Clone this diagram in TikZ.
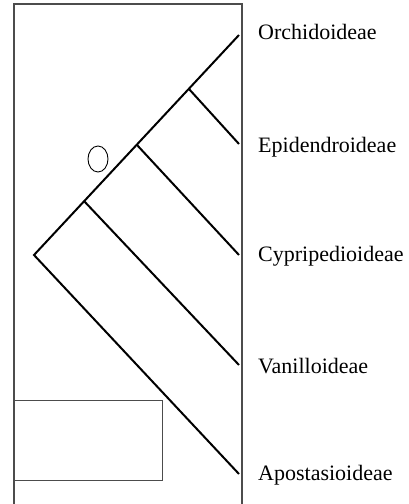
\documentclass[tikz,border=0pt]{standalone}
\usepackage{fontspec}
\setmainfont{Liberation Serif}
\usepackage{tikz}

\begin{document}
\begin{tikzpicture}[x=1pt,y=-1pt,every node/.style={font=\fontsize{22}{26}\selectfont}]
\useasboundingbox (0,0) rectangle (408,504);
% frame and box
\draw[gray!60!black,line width=1.2pt] (14,504) -- (14,4) -- (242,4) -- (242,504);
\draw[gray!60!black,line width=1pt] (14,400) rectangle (162,480);
% tree
\coordinate (root) at (34,255);
\coordinate (n1) at (84,201);
\coordinate (n2) at (137,145);
\coordinate (n3) at (189,89);
\coordinate (orch) at (239,35);
\coordinate (epid) at (239,144);
\coordinate (cypr) at (239,255);
\coordinate (vani) at (239,365);
\coordinate (apos) at (239,474);
\draw[line width=2pt,line join=miter] (apos) -- (root) -- (orch);
\draw[line width=2pt] (n1) -- (vani);
\draw[line width=2pt] (n2) -- (cypr);
\draw[line width=2pt] (n3) -- (epid);
\draw[line width=0.9pt] (98,159) ellipse [x radius=10, y radius=13];
% labels
\node[anchor=base west,inner sep=0] (lorch) at (258,39) {Orchidoideae};
\node[anchor=base west,inner sep=0] (lepid) at (258,152) {Epidendroideae};
\node[anchor=base west,inner sep=0] (lcypr) at (258,261) {Cypripedioideae};
\node[anchor=base west,inner sep=0] (lvani) at (258,373) {Vanilloideae};
\node[anchor=base west,inner sep=0] (lapos) at (258,480) {Apostasioideae};
\end{tikzpicture}
\end{document}
